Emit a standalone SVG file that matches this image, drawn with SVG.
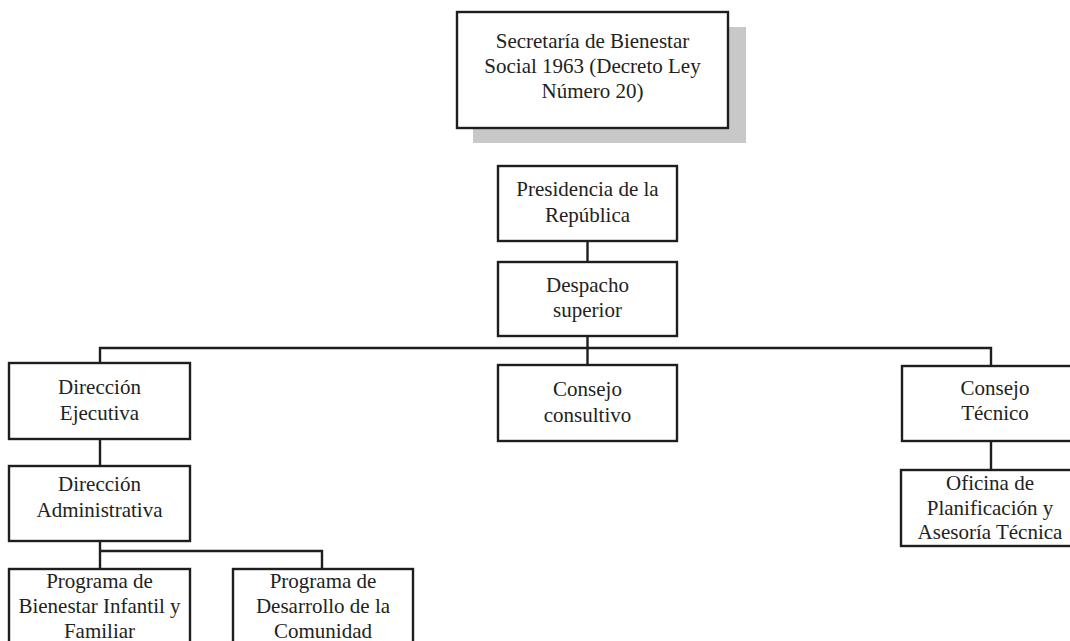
<svg xmlns="http://www.w3.org/2000/svg" width="1070" height="641" viewBox="0 0 1070 641">
<style>
.box{fill:#fff;stroke:#1e1e1e;stroke-width:2.4}
.shadow{fill:#c8c8c8}
.conn{fill:none;stroke:#1e1e1e;stroke-width:2.4}
text{font-family:"Liberation Serif","Times New Roman",serif;font-size:21px;fill:#222;text-anchor:middle}
</style>
<rect width="1070" height="641" fill="#fff"/>
<g id="connectors">
<path class="conn" d="M587.5,241V262M587.5,336V365M100,363V348H991V366M100,439V466M100,541V569M100,551H322V569M991,441V470"/>
</g>
<g id="secretaria">
<rect class="shadow" x="473" y="27" width="273" height="116"/>
<rect class="box" x="457" y="12" width="271" height="116"/>
<text x="592.5" y="48">Secretaría de Bienestar</text>
<text x="592.5" y="73">Social 1963 (Decreto Ley</text>
<text x="592.5" y="98">Número 20)</text>
</g>
<g id="presidencia">
<rect class="box" x="498" y="166" width="179" height="75"/>
<text x="587.5" y="196">Presidencia de la</text>
<text x="587.5" y="222">República</text>
</g>
<g id="despacho">
<rect class="box" x="498" y="262" width="179" height="74"/>
<text x="587.5" y="292">Despacho</text>
<text x="587.5" y="317">superior</text>
</g>
<g id="consultivo">
<rect class="box" x="498" y="365" width="179" height="76"/>
<text x="587.5" y="396">Consejo</text>
<text x="587.5" y="422">consultivo</text>
</g>
<g id="direccion-ejecutiva">
<rect class="box" x="9" y="363" width="181" height="76"/>
<text x="99.5" y="394">Dirección</text>
<text x="99.5" y="420">Ejecutiva</text>
</g>
<g id="direccion-administrativa">
<rect class="box" x="9" y="466" width="181" height="75"/>
<text x="99.5" y="491">Dirección</text>
<text x="99.5" y="517">Administrativa</text>
</g>
<g id="programa-bienestar">
<rect class="box" x="9" y="569" width="181" height="90"/>
<text x="99.5" y="588">Programa de</text>
<text x="99.5" y="613">Bienestar Infantil y</text>
<text x="99.5" y="638">Familiar</text>
</g>
<g id="programa-desarrollo">
<rect class="box" x="233" y="569" width="180" height="90"/>
<text x="323" y="588">Programa de</text>
<text x="323" y="613">Desarrollo de la</text>
<text x="323" y="638">Comunidad</text>
</g>
<g id="consejo-tecnico">
<rect class="box" x="902" y="366" width="186" height="75"/>
<text x="995" y="395">Consejo</text>
<text x="995" y="420">Técnico</text>
</g>
<g id="oficina">
<rect class="box" x="901" y="470" width="180" height="76"/>
<text x="990" y="490">Oficina de</text>
<text x="990" y="515">Planificación y</text>
<text x="990" y="539">Asesoría Técnica</text>
</g>
</svg>
